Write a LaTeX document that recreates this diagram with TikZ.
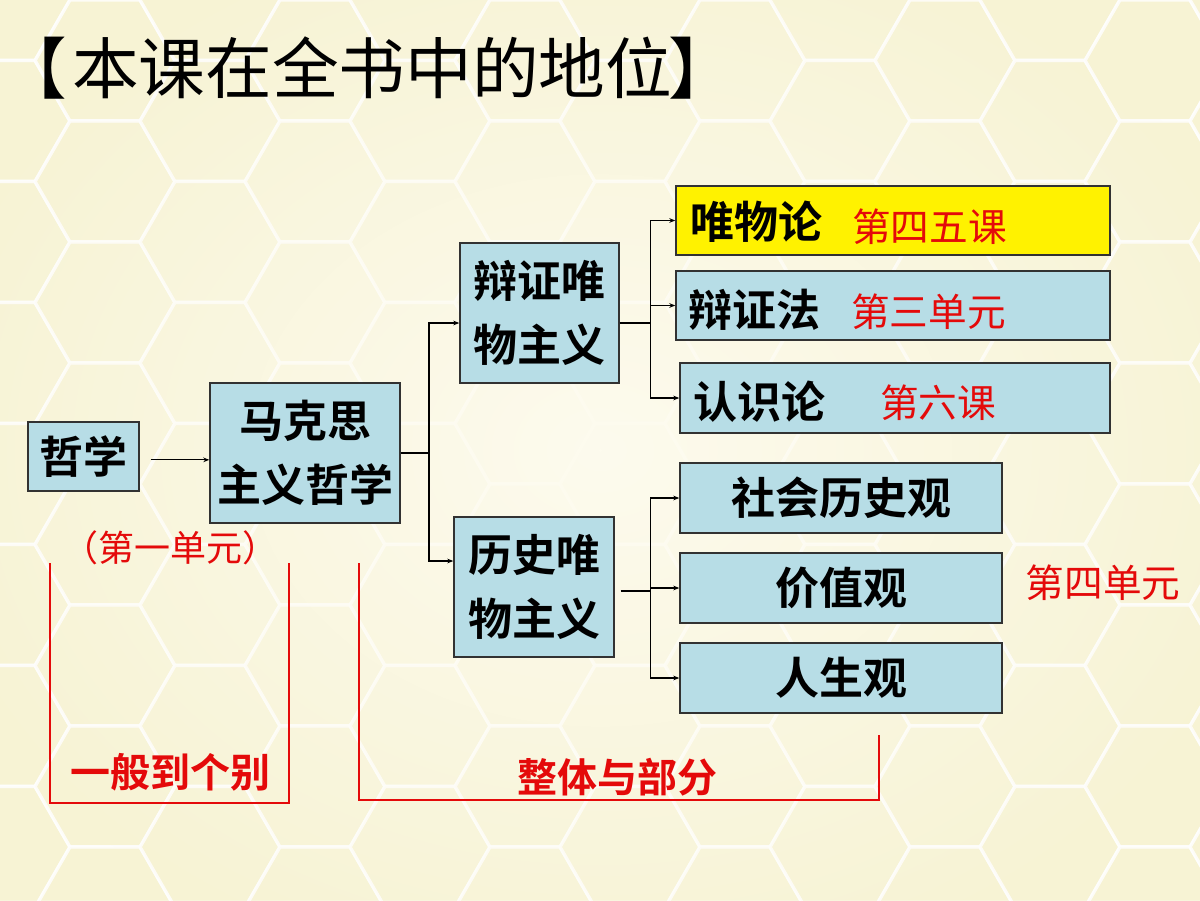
\documentclass[tikz,border=0pt]{standalone}
\usepackage{fontspec}
\setmainfont{Noto Sans CJK SC}[BoldFont={Noto Sans CJK SC Bold}]
\usepackage{tikz}
\usetikzlibrary{arrows.meta,calc,fadings}
\definecolor{bgcream}{RGB}{253,251,238}
\definecolor{hexfill}{RGB}{244,238,196}
\definecolor{boxblue}{RGB}{183,221,230}
\definecolor{boxline}{RGB}{50,50,50}
\definecolor{labred}{RGB}{228,10,10}
\tikzfading[name=centerfade,inner color=transparent!0,outer color=transparent!100]

\begin{document}
\begin{tikzpicture}[x=0.75pt,y=0.75pt,yscale=-1,xscale=1,
  box/.style={draw=boxline,line width=1.1pt,fill=boxblue,inner sep=0pt,align=center,
    font=\bfseries\fontsize{33}{48}\selectfont},
  boxtxt/.style={inner sep=0pt,font=\bfseries\fontsize{33}{40}\selectfont},
  redlbl/.style={inner sep=0pt,text=labred,font=\fontsize{29}{34}\selectfont},
  titletxt/.style={inner sep=0pt,anchor=west,font=\fontsize{50}{54}\selectfont},
  conn/.style={line width=0.8pt,-{Stealth[length=4.5pt,width=3.5pt]}},
  bracket/.style={draw=labred,line width=1pt},
  hexcell/.style={fill=hexfill,draw=white,draw opacity=0.8,line width=2.5pt}]
%set diagram size 1200 x 900
\useasboundingbox (0,0) rectangle (1200,900);
\fill[bgcream] (0,0) rectangle (1200,900);

%Background hexagons
\begin{scope}
\clip (0,0) rectangle (1200,900);
\foreach \i in {0,...,12}
  \foreach \j in {0,...,8}
    \draw[hexcell,fill opacity=0.6] ({\i*105},{\j*121+mod(\i,2)*60.5}) +(0:70) -- +(60:70) -- +(120:70) -- +(180:70) -- +(240:70) -- +(300:70) -- cycle;
\fill[bgcream,path fading=centerfade] (-100,-100) rectangle (1300,1000);
\end{scope}

% Title
\node[titletxt] (titlel) at (0,68) {【};
\node[titletxt] (title) at (72,68) {本课在全书中的地位};
\node[titletxt] (titler) at (668,68) {】};

% Boxes
\node[box,minimum width=83.25pt,minimum height=51.75pt] (zx) at (83.5,456.5) {哲学};
\node[box,minimum width=142.5pt,minimum height=105pt] (mk) at (305,453) {马克思\\主义哲学};
\node[box,minimum width=119.25pt,minimum height=105pt] (bz) at (539.5,313) {辩证唯\\物主义};
\node[box,minimum width=120pt,minimum height=105pt] (ls) at (534,587) {历史唯\\物主义};

\node[box,fill=yellow,minimum width=325.5pt,minimum height=51.75pt] (wl) at (893,220.5) {};
\node[box,minimum width=325.5pt,minimum height=51.75pt] (bf) at (893,305.5) {};
\node[box,minimum width=322.5pt,minimum height=52.5pt] (rs) at (895,398) {};

\node[box,minimum width=241.5pt,minimum height=52.5pt] (sh) at (841,498) {社会历史观};
\node[box,minimum width=241.5pt,minimum height=52.5pt] (jz) at (841,588) {价值观};
\node[box,minimum width=241.5pt,minimum height=52.5pt] (rsg) at (841,678) {人生观};

% Text Node
\node[boxtxt,anchor=west] (wltxt) at (690,222) {唯物论};
\node[redlbl,anchor=west] (wlred) at (852,227) {第四五课};
\node[boxtxt,anchor=west] (bftxt) at (688,310) {辩证法};
\node[redlbl,anchor=west] (bfred) at (851,312) {第三单元};
\node[boxtxt,anchor=west] (rstxt) at (693,402) {认识论};
\node[redlbl,anchor=west] (rsred) at (880,403) {第六课};

% Connectors
\draw[conn] ([xshift=8.25pt,yshift=2.5pt]zx.east) -- ([yshift=2.5pt]zx.east -| mk.west);
\coordinate (j1) at (429,453);
\draw[line width=0.8pt] (mk.east) -- (j1);
\draw[conn] (j1) |- ([yshift=7.5pt]bz.west);
\draw[conn] (j1) |- ([yshift=-19.5pt]ls.west);

\draw[line width=0.8pt] ([yshift=7.5pt]bz.east) -- ++(31,0) coordinate (j2);
\draw[conn] (j2) |- (wl.west);
\draw[conn] (j2) |- (bf.west);
\draw[conn] (j2) |- (rs.west);

\draw[line width=0.8pt] ([xshift=4.5pt,yshift=3pt]ls.east) -- ++(30,0) coordinate (j3);
\draw[conn] (j3) |- (sh.west);
\draw[conn] (j3) |- (jz.west);
\draw[conn] (j3) |- (rsg.west);

% Red labels and brackets
\node[redlbl,font=\fontsize{27}{30}\selectfont] (dy) at (170,548) {（第一单元）};
\node[redlbl] (ds) at (1103,583) {第四单元};

\draw[bracket] (50,563) -- (50,803) -- (289,803) -- (289,563);
\draw[bracket] (359,563) -- (359,800) -- (879,800) -- (879,735);
\node[redlbl,font=\bfseries\fontsize{30}{34}\selectfont] (yb) at (170,772) {一般到个别};
\node[redlbl,font=\bfseries\fontsize{30}{34}\selectfont] (zt) at (617,777) {整体与部分};

\end{tikzpicture}
\end{document}
